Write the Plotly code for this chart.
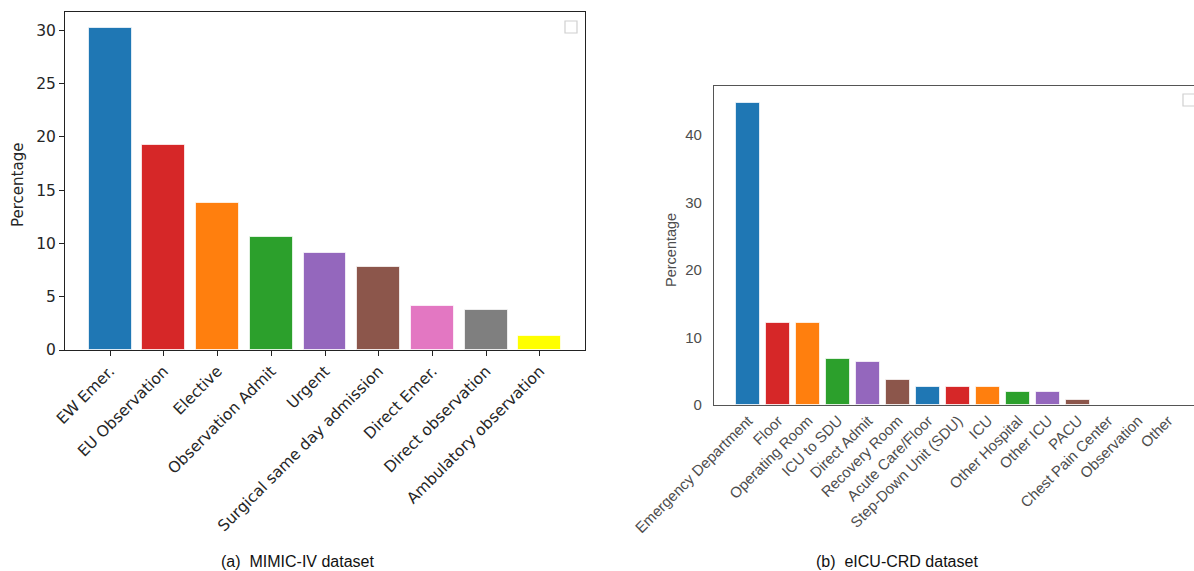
import plotly.graph_objects as go

W, H = 1194, 571

# (a) MIMIC-IV admission types
mimic_labels = ["EW Emer.", "EU Observation", "Elective", "Observation Admit", "Urgent",
                "Surgical same day admission", "Direct Emer.", "Direct observation",
                "Ambulatory observation"]
mimic_values = [30.2, 19.2, 13.8, 10.6, 9.1, 7.8, 4.1, 3.8, 1.35]
mimic_colors = ["#1f77b4", "#d62728", "#ff7f0e", "#2ca02c", "#9467bd",
                "#8c564b", "#e377c2", "#7f7f7f", "#ffff00"]

# (b) eICU-CRD unit admit sources
eicu_labels = ["Emergency Department", "Floor", "Operating Room", "ICU to SDU", "Direct Admit",
               "Recovery Room", "Acute Care/Floor", "Step-Down Unit (SDU)", "ICU",
               "Other Hospital", "Other ICU", "PACU", "Chest Pain Center", "Observation", "Other"]
eicu_values = [44.7, 12.2, 12.2, 6.8, 6.3, 3.75, 2.65, 2.65, 2.65, 2.0, 2.0, 0.7, 0.01, 0.01, 0.01]
eicu_palette = ["#1f77b4", "#d62728", "#ff7f0e", "#2ca02c", "#9467bd", "#8c564b"]
eicu_colors = [eicu_palette[i % len(eicu_palette)] for i in range(len(eicu_labels))]


def px_x(v):
    return v / W


def px_y(v):
    return 1 - v / H


fig = go.Figure()

fig.add_trace(go.Bar(
    x=list(range(len(mimic_labels))), y=mimic_values, width=0.8,
    marker=dict(color=mimic_colors, line=dict(color="rgba(255,255,255,0.7)", width=1)),
    xaxis="x", yaxis="y", showlegend=False,
))
fig.add_trace(go.Bar(
    x=list(range(len(eicu_labels))), y=eicu_values, width=0.8,
    marker=dict(color=eicu_colors, line=dict(color="rgba(255,255,255,0.7)", width=1)),
    xaxis="x2", yaxis="y2", showlegend=False,
))

left_font = dict(family="DejaVu Sans", size=15.5, color="#262626")
right_font = dict(family="Liberation Sans", size=15, color="#4d4d4d")

n_m = len(mimic_labels)
n_e = len(eicu_labels)
pad_m = 0.05 * (n_m - 1 + 0.8)
pad_e = 0.05 * (n_e - 1 + 0.8)
e_lo = -0.4 - pad_e
e_step = 30.0  # pixels per category in panel (b)
e_hi = e_lo + (W - 714) / e_step

fig.update_layout(
    width=W, height=H, margin=dict(l=0, r=0, t=0, b=0),
    paper_bgcolor="white", plot_bgcolor="white",
    bargap=0,
    xaxis=dict(
        domain=[px_x(65), px_x(585)], anchor="y", automargin=False,
        range=[-0.4 - pad_m, n_m - 1 + 0.4 + pad_m],
        tickmode="array", tickvals=list(range(n_m)), ticktext=mimic_labels,
        tickangle=-45, ticks="outside", ticklen=5, tickcolor="#222",
        showline=True, linecolor="#222", linewidth=1, mirror=True,
        showgrid=False, zeroline=False, tickfont=left_font,
    ),
    yaxis=dict(
        domain=[px_y(350), px_y(12)], anchor="x", automargin=False,
        range=[0, max(mimic_values) * 1.05],
        tickvals=[0, 5, 10, 15, 20, 25, 30],
        ticks="outside", ticklen=5, tickcolor="#222",
        showline=True, linecolor="#222", linewidth=1, mirror=True,
        showgrid=False, zeroline=False, tickfont=left_font,
    ),
    xaxis2=dict(
        domain=[px_x(714), 1.0], anchor="y2", automargin=False,
        range=[e_lo, e_hi],
        tickmode="array", tickvals=list(range(n_e)), ticktext=eicu_labels,
        tickangle=-45, ticks="", ticklen=0,
        showline=True, linecolor="#555", linewidth=1.3, mirror=True,
        showgrid=False, zeroline=False, tickfont=right_font,
    ),
    yaxis2=dict(
        domain=[px_y(405), px_y(86)], anchor="x2", automargin=False,
        range=[0, 47.26],
        tickvals=[0, 10, 20, 30, 40],
        ticks="outside", ticklen=8, tickcolor="rgba(0,0,0,0)",
        showline=True, linecolor="#555", linewidth=1.3, mirror=False,
        showgrid=False, zeroline=False, tickfont=right_font,
    ),
    shapes=[
        # empty legend frames
        dict(type="rect", xref="paper", yref="paper",
             x0=px_x(565), x1=px_x(577), y0=px_y(33), y1=px_y(21),
             line=dict(color="#d0d0d0", width=1.2), fillcolor="white"),
        dict(type="rect", xref="paper", yref="paper",
             x0=px_x(1183), x1=px_x(1196), y0=px_y(106), y1=px_y(94),
             line=dict(color="#d0d0d0", width=1.2), fillcolor="white"),
    ],
    annotations=[
        dict(text="Percentage", xref="paper", yref="paper", x=px_x(18), y=px_y(185),
             textangle=-90, showarrow=False, xanchor="center", yanchor="middle",
             font=dict(family="DejaVu Sans", size=15, color="#262626")),
        dict(text="Percentage", xref="paper", yref="paper", x=px_x(671), y=px_y(250),
             textangle=-90, showarrow=False, xanchor="center", yanchor="middle",
             font=dict(family="Liberation Sans", size=14.5, color="#4d4d4d")),
        dict(text="(a)  MIMIC-IV dataset", xref="paper", yref="paper", x=px_x(297), y=px_y(561),
             showarrow=False, xanchor="center", yanchor="middle",
             font=dict(family="Liberation Sans", size=16, color="#111")),
        dict(text="(b)  eICU-CRD dataset", xref="paper", yref="paper", x=px_x(897), y=px_y(561),
             showarrow=False, xanchor="center", yanchor="middle",
             font=dict(family="Liberation Sans", size=16, color="#111")),
    ],
)

fig.write_html("out.html")
